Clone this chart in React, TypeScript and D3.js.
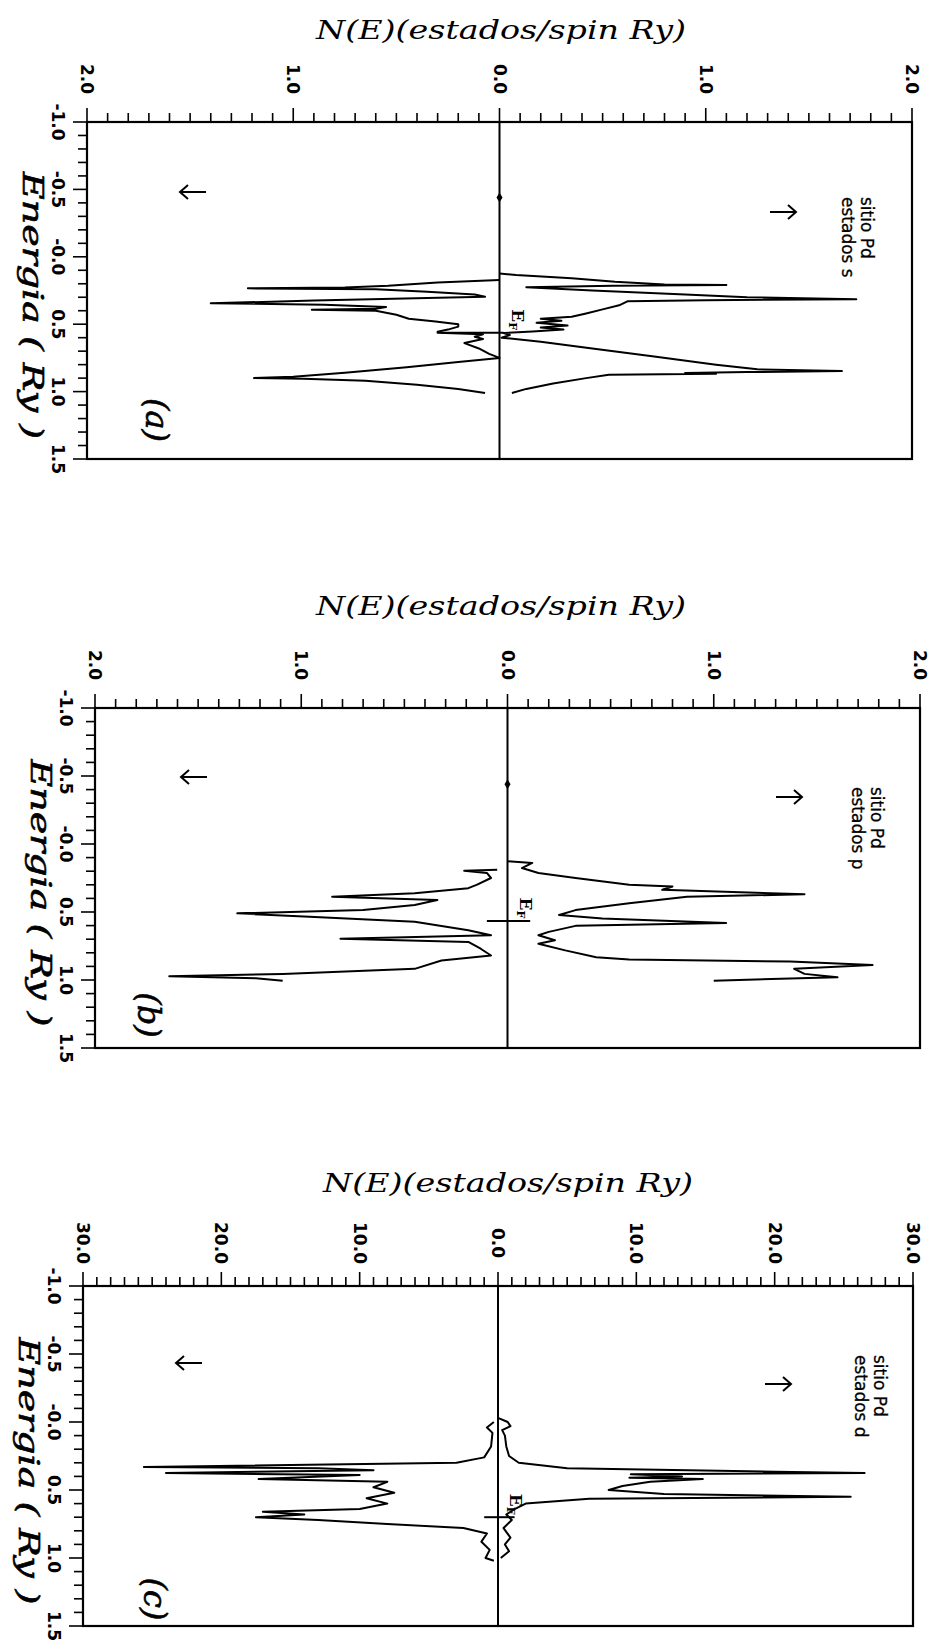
import React from "react";
import * as d3 from "d3";

// energy axis (Ry), same for the three panels
const energyTicks = [-1.0, -0.5, 0.0, 0.5, 1.0, 1.5];
const energyLabels = ["-1.0", "-0.5", "-0.0", "0.5", "1.0", "1.5"];

// N(E) axis, s and p panels
const spTicks = [-2, -1, 0, 1, 2];
const spLabels = ["2.0", "1.0", "0.0", "1.0", "2.0"];
// N(E) axis, d panel
const dTicks = [-30, -20, -10, 0, 10, 20, 30];
const dLabels = ["30.0", "20.0", "10.0", "0.0", "10.0", "20.0", "30.0"];

// [energy, N(E)]; spin down stored as magnitudes
const sUp = [
  [0.123, 0], [0.135, 0.08], [0.16, 0.35], [0.185, 0.56], [0.205, 0.8], [0.21, 1.1],
  [0.215, 0.55], [0.225, 0.13], [0.25, 0.45], [0.28, 0.9], [0.3, 1.2], [0.315, 1.73],
  [0.322, 1.0], [0.33, 0.62], [0.36, 0.58], [0.39, 0.5], [0.42, 0.42], [0.445, 0.35],
  [0.46, 0.2], [0.475, 0.3], [0.49, 0.18], [0.51, 0.33], [0.525, 0.2], [0.54, 0.31],
  [0.555, 0.16], [0.565, 0.02], [0.58, 0.05], [0.6, 0.01], [0.63, 0.2], [0.68, 0.45],
  [0.74, 0.75], [0.8, 1.05], [0.835, 1.25], [0.848, 1.66], [0.855, 1.2], [0.862, 0.9],
  [0.868, 1.05], [0.875, 0.53], [0.9, 0.42], [0.94, 0.26], [0.98, 0.13], [1.01, 0.06],
];
const sDown = [
  [0.172, 0], [0.19, 0.3], [0.215, 0.54], [0.228, 0.75], [0.234, 1.22], [0.24, 0.6],
  [0.26, 0.35], [0.28, 0.12], [0.296, 0.07], [0.305, 0.35], [0.325, 0.9], [0.345, 1.4],
  [0.355, 0.85], [0.372, 0.55], [0.385, 0.6], [0.393, 0.91], [0.4, 0.6], [0.43, 0.5],
  [0.46, 0.44], [0.48, 0.31], [0.5, 0.2], [0.518, 0.2], [0.54, 0.25], [0.556, 0.3],
  [0.563, 0.3], [0.575, 0.08], [0.593, 0.12], [0.61, 0.08], [0.64, 0.17], [0.68, 0.1],
  [0.72, 0.05], [0.75, 0.0], [0.78, 0.2], [0.82, 0.45], [0.86, 0.75], [0.89, 1.0],
  [0.9, 1.19], [0.905, 0.95], [0.92, 0.65], [0.95, 0.4], [0.98, 0.2], [1.01, 0.07],
];

const pUp = [
  [0.127, 0], [0.139, 0.12], [0.177, 0.07], [0.213, 0.15], [0.25, 0.33], [0.3, 0.59],
  [0.313, 0.8], [0.337, 0.75], [0.37, 1.44], [0.387, 0.87], [0.436, 0.59], [0.486, 0.33],
  [0.522, 0.25], [0.547, 0.46], [0.58, 1.06], [0.602, 0.33], [0.646, 0.2], [0.671, 0.15],
  [0.708, 0.23], [0.733, 0.15], [0.782, 0.28], [0.832, 0.43], [0.849, 0.59], [0.864, 1.37],
  [0.889, 1.77], [0.918, 1.39], [0.955, 1.44], [0.98, 1.6], [1.005, 1.0],
];
const pDown = [
  [0.19, 0.05], [0.196, 0.21], [0.213, 0.1], [0.25, 0.08], [0.3, 0.15], [0.325, 0.19],
  [0.362, 0.45], [0.387, 0.85], [0.412, 0.34], [0.449, 0.45], [0.486, 0.7], [0.51, 1.31],
  [0.535, 0.96], [0.572, 0.45], [0.634, 0.19], [0.671, 0.08], [0.696, 0.81], [0.72, 0.19],
  [0.77, 0.13], [0.82, 0.08], [0.857, 0.32], [0.918, 0.45], [0.955, 1.09], [0.973, 1.64],
  [0.988, 1.22], [1.005, 1.09],
];

const dUp = [
  [-0.03, 0], [0.0, 0.7], [0.03, 0.9], [0.06, 0.3], [0.1, 0.5], [0.18, 0.6], [0.25, 0.8],
  [0.3, 1.5], [0.34, 5], [0.365, 20], [0.375, 26.5], [0.385, 9.6], [0.4, 13.3], [0.41, 9.5],
  [0.42, 14.8], [0.44, 11], [0.47, 9], [0.5, 8], [0.53, 12], [0.55, 25.5], [0.565, 6.6],
  [0.6, 2], [0.64, 1.2], [0.68, 0.6], [0.72, 1.0], [0.78, 0.4], [0.85, 0.9], [0.9, 0.5],
  [0.95, 0.8], [1.0, 0.2],
];
const dDown = [
  [0.0, 0.3], [0.04, 0.8], [0.08, 0.4], [0.18, 0.5], [0.26, 1.0], [0.3, 3], [0.33, 25.6],
  [0.34, 13], [0.355, 9], [0.375, 24], [0.39, 10], [0.42, 17.3], [0.44, 8], [0.48, 9],
  [0.52, 7.5], [0.56, 9.5], [0.6, 8], [0.64, 10], [0.66, 17], [0.68, 14], [0.7, 17.5],
  [0.72, 13], [0.75, 8], [0.78, 2.5], [0.82, 0.8], [0.88, 1.2], [0.94, 0.6], [1.0, 0.9],
  [1.02, 0.3],
];

const letters = ["(a)", "(b)", "(c)"];
const states = ["estados s", "estados p", "estados d"];
const fermi = [0.563, 0.566, 0.7];

const panels = [
  {
    up: sUp, down: sDown, ticks: spTicks, labels: spLabels, max: 2, minor: 0.1, labelStep: 1,
    left: 87, right: 912, top: 122, bottom: 459, titleX: 501, titleY: 30,
    upArrow: [783, 212], downArrow: [193, 192], textX: 867, textY: 197, letterX: 157, letterY: 420,
    ef: fermi[0], efExt: [-0.28, 0.02], marker: true, letter: letters[0], state: states[0],
  },
  {
    up: pUp, down: pDown, ticks: spTicks, labels: spLabels, max: 2, minor: 0.1, labelStep: 1,
    left: 95, right: 920, top: 708, bottom: 1048, titleX: 501, titleY: 606,
    upArrow: [789, 797], downArrow: [194, 777], textX: 877, textY: 787, letterX: 149, letterY: 1015,
    ef: fermi[1], efExt: [-0.1, 0.11], marker: true, letter: letters[1], state: states[1],
  },
  {
    up: dUp, down: dDown, ticks: dTicks, labels: dLabels, max: 30, minor: 1, labelStep: 10,
    left: 83, right: 913, top: 1286, bottom: 1626, titleX: 508, titleY: 1183,
    upArrow: [778, 1384], downArrow: [189, 1363], textX: 880, textY: 1355, letterX: 155, letterY: 1599,
    ef: fermi[2], efExt: [-1.0, 1.2], marker: false, letter: letters[2], state: states[2],
  },
];

const sans = "'DejaVu Sans', sans-serif";
const serif = "'DejaVu Serif', serif";

// spin arrow, dir = 1 points right (up spin), -1 points left
const arrowPath = (cx: number, cy: number, dir: number) =>
  `M${cx - 13 * dir},${cy}L${cx + 13 * dir},${cy}M${cx + 5 * dir},${cy - 7}L${cx + 13 * dir},${cy}L${cx + 5 * dir},${cy + 7}`;

function Panel({ p }: { p: any }) {
  const x = d3.scaleLinear().domain([-p.max, p.max]).range([p.left, p.right]);
  const y = d3.scaleLinear().domain([-1, 1.5]).range([p.top, p.bottom]);
  const lineUp = d3.line<number[]>().x((d) => x(d[1])).y((d) => y(d[0]));
  const lineDown = d3.line<number[]>().x((d) => x(-d[1])).y((d) => y(d[0]));

  const nCount = Math.round((2 * p.max) / p.minor);
  const nMinor = d3.range(nCount + 1).map((i) => -p.max + i * p.minor);
  const eMinor = d3.range(26).map((i) => -1 + i * 0.1);
  const isMajor = (v: number, step: number) => Math.abs(v / step - Math.round(v / step)) < 1e-6;
  const x0 = x(0);

  return (
    <g>
      <text x={p.titleX} y={p.titleY} textAnchor="middle" dominantBaseline="central"
        fontFamily={serif} fontStyle="italic" fontSize={26} textLength={370}
        lengthAdjust="spacingAndGlyphs">N(E)(estados/spin Ry)</text>

      <rect x={p.left} y={p.top} width={p.right - p.left} height={p.bottom - p.top}
        fill="none" stroke="#000" strokeWidth={2.2} />
      <line x1={x0} x2={x0} y1={p.top} y2={p.bottom} stroke="#000" strokeWidth={2} />

      {nMinor.map((v, i) => (
        <line key={"nt" + i} x1={x(v)} x2={x(v)} y1={p.top}
          y2={p.top - (isMajor(v, p.labelStep) ? 14 : 9)} stroke="#000" strokeWidth={1.6} />
      ))}
      {eMinor.map((e, i) => (
        <line key={"et" + i} x1={p.left} x2={p.left - (isMajor(e, 0.5) ? 14 : 9)}
          y1={y(e)} y2={y(e)} stroke="#000" strokeWidth={1.6} />
      ))}

      {p.ticks.map((t: number, i: number) => (
        <text key={"nl" + i} transform={`translate(${x(t)},${p.top - 43}) rotate(90)`}
          textAnchor="middle" dominantBaseline="central" fontFamily={sans}
          fontWeight="bold" fontSize={17}>{p.labels[i]}</text>
      ))}
      {energyTicks.map((e, i) => (
        <text key={"el" + i} transform={`translate(${p.left - 29},${y(e)}) rotate(90)`}
          textAnchor="middle" dominantBaseline="central" fontFamily={sans}
          fontWeight="bold" fontSize={17}>{energyLabels[i]}</text>
      ))}

      <text transform={`translate(${p.left - 55},${(p.top + p.bottom) / 2 + 15}) rotate(90)`}
        textAnchor="middle" dominantBaseline="central" fontFamily={serif}
        fontStyle="italic" fontSize={28} stroke="#000" strokeWidth={0.6} textLength={267}
        lengthAdjust="spacingAndGlyphs">Energia ( Ry )</text>

      <path d={lineUp(p.up) || ""} fill="none" stroke="#000" strokeWidth={2} strokeLinejoin="round" />
      <path d={lineDown(p.down) || ""} fill="none" stroke="#000" strokeWidth={2} strokeLinejoin="round" />

      {/* Fermi level */}
      <line x1={x(p.efExt[0])} x2={x(p.efExt[1])} y1={y(p.ef)} y2={y(p.ef)} stroke="#000" strokeWidth={2} />
      <text transform={`translate(${x0 + 18},${y(p.ef) - 13}) rotate(90)`} textAnchor="middle"
        dominantBaseline="central" fontFamily={serif} fontSize={17} fontWeight="bold">
        E<tspan fontSize={11} dy={5}>F</tspan>
      </text>

      {p.marker && (
        <path d={`M${x0},${y(-0.44) - 5}L${x0 + 3},${y(-0.44)}L${x0},${y(-0.44) + 5}L${x0 - 3},${y(-0.44)}Z`} fill="#000" />
      )}

      <path d={arrowPath(p.upArrow[0], p.upArrow[1], 1)} fill="none" stroke="#000" strokeWidth={2} />
      <path d={arrowPath(p.downArrow[0], p.downArrow[1], -1)} fill="none" stroke="#000" strokeWidth={2} />

      <text transform={`translate(${p.textX},${p.textY}) rotate(90)`} dominantBaseline="central"
        fontFamily={sans} fontSize={17} stroke="#000" strokeWidth={0.3}>sitio Pd</text>
      <text transform={`translate(${p.textX - 19},${p.textY}) rotate(90)`} dominantBaseline="central"
        fontFamily={sans} fontSize={17} stroke="#000" strokeWidth={0.3}>{p.state}</text>

      <text transform={`translate(${p.letterX},${p.letterY}) rotate(90)`} textAnchor="middle"
        dominantBaseline="central" fontFamily={serif} fontStyle="italic" fontSize={32}
        stroke="#000" strokeWidth={0.6}>{p.letter}</text>
    </g>
  );
}

export default function App() {
  return (
    <svg width={932} height={1643} style={{ position: "absolute", left: 0, top: 0, background: "#fff" }}>
      <rect width={932} height={1643} fill="#fff" />
      {panels.map((p, i) => (
        <Panel key={i} p={p} />
      ))}
    </svg>
  );
}
